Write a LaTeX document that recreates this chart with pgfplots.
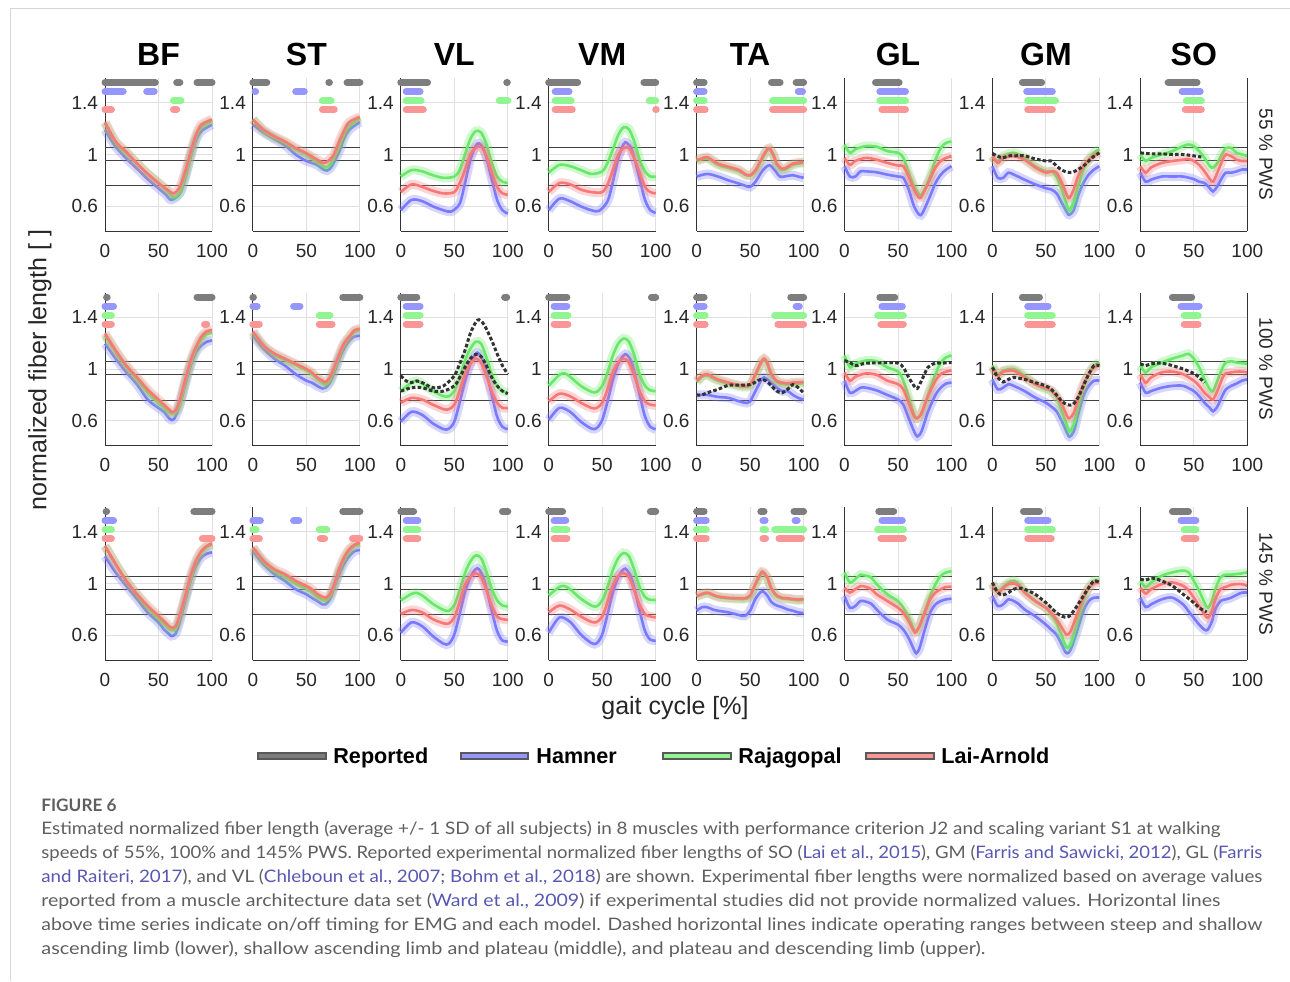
\documentclass[border=0pt]{standalone}
\usepackage{pgfplots}
\pgfplotsset{compat=1.18}
\usepackage{fontspec}
\setmainfont{Liberation Sans}
\newfontfamily\capfont{Lato}
\usepackage{graphicx}
\definecolor{hamc}{RGB}{122,122,255}
\definecolor{rajc}{RGB}{105,232,105}
\definecolor{laic}{RGB}{248,120,120}
\definecolor{hamb}{RGB}{150,150,255}
\definecolor{rajb}{RGB}{145,245,145}
\definecolor{laib}{RGB}{250,150,150}
\definecolor{repb}{RGB}{125,125,125}
\definecolor{capc}{RGB}{95,95,95}
\definecolor{citec}{RGB}{88,88,178}
\newcommand\ct[1]{\textcolor{citec}{#1}}
\pgfplotsset{
  panel/.style={
    scale only axis, width=53.5pt, height=76.5pt, anchor=south west,
    xmin=0, xmax=100, ymin=0.41, ymax=1.59,
    axis lines=left, axis line style={-, draw=black!80, line width=0.5pt},
    xtick={0,50,100}, ytick={0.6,1,1.4},
    grid=major, major grid style={draw=black!12, line width=0.5pt},
    major tick length=0pt, tick style={draw=none},
    ticklabel style={font=\fontsize{9.5}{11}\selectfont, text=black!85},
    xticklabel style={yshift=-3pt},
    /pgf/number format/assume math mode=true,
    clip=false,
  },
  hl/.style={no marks, draw=black!75, line width=0.6pt},
  ham/.style={no marks, smooth, draw=hamc, line width=1.3pt, preaction={draw=hamc, draw opacity=0.3, line width=4.5pt}},
  raj/.style={no marks, smooth, draw=rajc, line width=1.3pt, preaction={draw=rajc, draw opacity=0.3, line width=4.5pt}},
  lai/.style={no marks, smooth, draw=laic, line width=1.3pt, preaction={draw=laic, draw opacity=0.3, line width=4.5pt}},
  rep/.style={no marks, smooth, draw=black!80, line width=1.5pt, dash pattern=on 1.8pt off 1.1pt},
  bar/.style={no marks, draw=#1, line width=3.5pt, line cap=round, unbounded coords=jump},
}
\newcommand\hlines{%
  \addplot[hl] coordinates {(0,1.055)(100,1.055)};
  \addplot[hl] coordinates {(0,0.955)(100,0.955)};
  \addplot[hl] coordinates {(0,0.76)(100,0.76)};}
\newcommand\rline{\draw[black!80, line width=0.5pt] (rel axis cs:1,0) -- (rel axis cs:1,1);}
\begin{document}
\begin{tikzpicture}
\path[use as bounding box, fill=white] (0,0) rectangle (645pt,-490.5pt);
% ================= ROW 1 (55% PWS) =================
\begin{axis}[panel, at={(52.5pt,-115.5pt)}]
\hlines
\addplot[ham] coordinates {(0,1.19)(10,1.06)(20,0.97)(30,0.89)(40,0.81)(50,0.74)(57,0.69)(62,0.65)(70,0.70)(75,0.82)(80,0.98)(85,1.11)(90,1.18)(100,1.23)};
\addplot[raj] coordinates {(0,1.24)(10,1.09)(20,1.01)(30,0.93)(40,0.85)(50,0.78)(58,0.72)(64,0.67)(70,0.71)(75,0.83)(80,0.99)(85,1.13)(90,1.21)(100,1.26)};
\addplot[lai] coordinates {(0,1.25)(10,1.10)(20,1.02)(30,0.93)(40,0.85)(50,0.78)(58,0.73)(64,0.70)(70,0.75)(75,0.87)(80,1.02)(85,1.15)(90,1.23)(100,1.27)};
\addplot[bar=repb] coordinates {(0,1.555)(47,1.555)(0,nan)(67,1.555)(70,1.555)(0,nan)(86,1.555)(100,1.555)};
\addplot[bar=hamb] coordinates {(0,1.485)(17,1.485)(0,nan)(39,1.485)(46,1.485)};
\addplot[bar=rajb] coordinates {(64,1.413)(71,1.413)};
\addplot[bar=laib] coordinates {(0,1.346)(6,1.346)(0,nan)(64,1.346)(67,1.346)};
\end{axis}
\begin{axis}[panel, at={(126.45pt,-115.5pt)}]
\hlines
\addplot[ham] coordinates {(0,1.23)(10,1.17)(20,1.12)(30,1.07)(40,1.00)(50,0.95)(60,0.92)(67,0.88)(72,0.89)(80,1.01)(85,1.12)(90,1.19)(100,1.25)};
\addplot[raj] coordinates {(0,1.27)(10,1.18)(20,1.13)(30,1.09)(40,1.04)(50,1.00)(60,0.94)(68,0.90)(73,0.93)(80,1.05)(85,1.15)(90,1.22)(100,1.28)};
\addplot[lai] coordinates {(0,1.27)(10,1.19)(20,1.14)(30,1.10)(40,1.05)(50,1.01)(60,0.96)(67,0.935)(75,0.99)(80,1.09)(85,1.18)(90,1.25)(100,1.29)};
\addplot[bar=repb] coordinates {(0,1.555)(13,1.555)(0,nan)(71,1.555)(71.5,1.555)(0,nan)(88,1.555)(100,1.555)};
\addplot[bar=hamb] coordinates {(2,1.485)(2.5,1.485)(0,nan)(40,1.485)(48,1.485)};
\addplot[bar=rajb] coordinates {(65,1.413)(73,1.413)};
\addplot[bar=laib] coordinates {(65,1.346)(76,1.346)};
\end{axis}
\begin{axis}[panel, at={(200.4pt,-115.5pt)}]
\hlines
\addplot[ham] coordinates {(0,0.57)(10,0.65)(20,0.64)(30,0.60)(40,0.57)(47,0.56)(55,0.62)(60,0.78)(65,0.96)(70,1.065)(73,1.085)(78,1.03)(85,0.81)(90,0.65)(95,0.57)(100,0.545)};
\addplot[raj] coordinates {(0,0.83)(10,0.88)(20,0.87)(30,0.84)(40,0.82)(50,0.83)(55,0.88)(60,1.0)(65,1.12)(70,1.18)(75,1.17)(80,1.08)(85,0.935)(90,0.83)(95,0.79)(100,0.78)};
\addplot[lai] coordinates {(0,0.71)(10,0.77)(20,0.75)(30,0.72)(40,0.70)(50,0.71)(55,0.78)(60,0.88)(65,1.0)(70,1.05)(75,1.06)(80,0.99)(85,0.86)(90,0.75)(95,0.70)(100,0.69)};
\addplot[bar=repb] coordinates {(0,1.555)(25,1.555)(0,nan)(99,1.555)(99.5,1.555)};
\addplot[bar=hamb] coordinates {(5,1.485)(18,1.485)};
\addplot[bar=rajb] coordinates {(5,1.413)(19,1.413)(0,nan)(92,1.413)(100,1.413)};
\addplot[bar=laib] coordinates {(5,1.346)(21,1.346)};
\end{axis}
\begin{axis}[panel, at={(274.35pt,-115.5pt)}]
\hlines
\addplot[ham] coordinates {(0,0.57)(10,0.66)(20,0.64)(30,0.60)(40,0.57)(47,0.565)(55,0.64)(60,0.79)(65,0.97)(70,1.08)(73,1.09)(78,1.03)(85,0.81)(90,0.65)(95,0.57)(100,0.55)};
\addplot[raj] coordinates {(0,0.86)(10,0.92)(20,0.91)(30,0.88)(40,0.85)(50,0.87)(55,0.935)(60,1.04)(65,1.15)(70,1.21)(75,1.195)(80,1.10)(85,0.96)(90,0.87)(95,0.83)(100,0.83)};
\addplot[lai] coordinates {(0,0.71)(10,0.78)(20,0.77)(30,0.73)(40,0.71)(50,0.71)(55,0.77)(60,0.88)(65,1.0)(70,1.05)(75,1.05)(80,0.97)(85,0.86)(90,0.75)(95,0.71)(100,0.70)};
\addplot[bar=repb] coordinates {(0,1.555)(27,1.555)(0,nan)(89,1.555)(100,1.555)};
\addplot[bar=hamb] coordinates {(6,1.485)(19,1.485)};
\addplot[bar=rajb] coordinates {(6,1.413)(21,1.413)(0,nan)(94,1.413)(100,1.413)};
\addplot[bar=laib] coordinates {(6,1.346)(22,1.346)(0,nan)(100,1.346)(100.5,1.346)};
\end{axis}
\begin{axis}[panel, at={(348.3pt,-115.5pt)}]
\hlines
\addplot[ham] coordinates {(0,0.83)(10,0.85)(20,0.83)(30,0.80)(40,0.775)(45,0.76)(50,0.75)(55,0.79)(62,0.88)(68,0.917)(73,0.88)(78,0.83)(85,0.835)(90,0.84)(95,0.83)(100,0.82)};
\addplot[raj] coordinates {(0,0.95)(10,0.97)(20,0.92)(30,0.895)(40,0.87)(45,0.845)(50,0.835)(55,0.87)(60,0.945)(65,1.02)(68,1.04)(72,0.985)(75,0.92)(80,0.88)(85,0.895)(90,0.92)(100,0.935)};
\addplot[lai] coordinates {(0,0.956)(5,0.97)(10,0.98)(20,0.93)(30,0.905)(40,0.88)(45,0.85)(50,0.84)(55,0.88)(60,0.956)(65,1.03)(68,1.05)(72,0.995)(75,0.93)(80,0.89)(85,0.905)(90,0.93)(100,0.943)};
\addplot[bar=repb] coordinates {(0,1.555)(7,1.555)(0,nan)(70,1.555)(78,1.555)(0,nan)(93,1.555)(100,1.555)};
\addplot[bar=hamb] coordinates {(0,1.485)(7,1.485)(0,nan)(95,1.485)(99,1.485)};
\addplot[bar=rajb] coordinates {(0,1.413)(7,1.413)(0,nan)(71,1.413)(100,1.413)};
\addplot[bar=laib] coordinates {(0,1.346)(8,1.346)(0,nan)(71,1.346)(100,1.346)};
\end{axis}
\begin{axis}[panel, at={(422.25pt,-115.5pt)}]
\hlines
\addplot[ham] coordinates {(0,0.91)(5,0.83)(10,0.83)(15,0.87)(20,0.87)(30,0.863)(40,0.845)(50,0.83)(55,0.82)(60,0.73)(65,0.60)(70,0.535)(73,0.55)(80,0.68)(85,0.78)(90,0.845)(95,0.884)(100,0.91)};
\addplot[raj] coordinates {(0,1.077)(5,1.013)(10,1.04)(20,1.065)(30,1.06)(40,1.026)(50,1.013)(55,0.975)(60,0.86)(65,0.755)(70,0.69)(73,0.70)(80,0.83)(85,0.96)(90,1.05)(95,1.09)(100,1.10)};
\addplot[lai] coordinates {(0,0.974)(5,0.92)(10,0.95)(20,0.974)(30,0.96)(40,0.935)(50,0.915)(55,0.91)(60,0.83)(65,0.73)(70,0.665)(73,0.69)(80,0.81)(85,0.90)(90,0.95)(95,0.974)(100,0.987)};
\addplot[bar=repb] coordinates {(29,1.555)(51,1.555)};
\addplot[bar=hamb] coordinates {(33,1.485)(57,1.485)};
\addplot[bar=rajb] coordinates {(33,1.413)(57,1.413)};
\addplot[bar=laib] coordinates {(35,1.346)(57,1.346)};
\end{axis}
\begin{axis}[panel, at={(496.2pt,-115.5pt)}]
\hlines
\addplot[ham] coordinates {(0,0.91)(5,0.82)(10,0.82)(15,0.86)(20,0.845)(30,0.806)(40,0.77)(50,0.74)(55,0.73)(60,0.70)(65,0.625)(70,0.55)(72,0.535)(76,0.57)(80,0.68)(85,0.78)(90,0.845)(95,0.884)(100,0.91)};
\addplot[raj] coordinates {(0,0.987)(5,0.95)(10,0.987)(20,1.013)(30,0.974)(40,0.91)(50,0.87)(55,0.87)(60,0.83)(65,0.73)(70,0.60)(72,0.57)(76,0.63)(80,0.755)(85,0.885)(90,0.96)(95,1.013)(100,1.04)};
\addplot[lai] coordinates {(0,0.987)(5,0.935)(10,0.974)(20,0.987)(30,0.96)(40,0.90)(50,0.86)(55,0.87)(60,0.86)(65,0.78)(70,0.68)(72,0.665)(76,0.73)(80,0.83)(85,0.91)(90,0.96)(95,0.99)(100,1.013)};
\addplot[rep] coordinates {(0,1.008)(5,0.987)(10,0.974)(15,0.99)(20,0.99)(30,0.99)(40,0.966)(50,0.95)(55,0.95)(60,0.91)(65,0.88)(70,0.863)(75,0.863)(80,0.885)(85,0.91)(90,0.95)(95,0.987)(100,1.013)};
\addplot[bar=repb] coordinates {(28,1.555)(46,1.555)};
\addplot[bar=hamb] coordinates {(32,1.485)(56,1.485)};
\addplot[bar=rajb] coordinates {(33,1.413)(59,1.413)};
\addplot[bar=laib] coordinates {(33,1.346)(56,1.346)};
\end{axis}
\begin{axis}[panel, at={(570.15pt,-115.5pt)}]
\hlines
\addplot[ham] coordinates {(0,0.86)(5,0.79)(10,0.806)(20,0.83)(30,0.83)(40,0.83)(50,0.81)(55,0.79)(60,0.78)(65,0.74)(68,0.715)(72,0.755)(77,0.83)(80,0.86)(85,0.86)(90,0.87)(95,0.884)(100,0.884)};
\addplot[raj] coordinates {(0,1.0)(5,0.95)(10,0.974)(20,1.0)(30,1.026)(40,1.065)(45,1.077)(50,1.065)(55,1.026)(60,0.974)(65,0.91)(68,0.90)(72,0.935)(77,1.013)(80,1.05)(85,1.05)(90,1.013)(95,1.0)(100,0.99)};
\addplot[lai] coordinates {(0,0.91)(5,0.86)(10,0.90)(20,0.935)(30,0.95)(40,0.96)(45,0.966)(50,0.95)(55,0.92)(60,0.87)(65,0.81)(68,0.79)(72,0.86)(77,0.96)(80,1.0)(85,0.987)(90,0.96)(95,0.95)(100,0.95)};
\addplot[rep] coordinates {(0,1.013)(10,1.005)(20,1.005)(30,1.0)(40,1.0)(50,0.99)(57,0.98)};
\addplot[bar=repb] coordinates {(26,1.555)(53,1.555)};
\addplot[bar=hamb] coordinates {(39,1.485)(56,1.485)};
\addplot[bar=rajb] coordinates {(43,1.413)(57,1.413)};
\addplot[bar=laib] coordinates {(42,1.346)(57,1.346)};
\rline
\end{axis}
% ================= ROW 2 (100% PWS) =================
\begin{axis}[panel, at={(52.5pt,-222.75pt)}]
\hlines
\addplot[ham] coordinates {(0,1.196)(10,1.08)(20,0.974)(30,0.88)(40,0.764)(50,0.70)(55,0.67)(60,0.62)(62,0.607)(65,0.62)(70,0.725)(75,0.88)(80,1.026)(85,1.13)(90,1.18)(95,1.21)(100,1.22)};
\addplot[raj] coordinates {(0,1.26)(10,1.13)(20,1.015)(30,0.92)(40,0.82)(50,0.74)(55,0.705)(60,0.665)(63,0.655)(66,0.665)(70,0.725)(75,0.895)(80,1.04)(85,1.15)(90,1.23)(95,1.27)(100,1.28)};
\addplot[lai] coordinates {(0,1.275)(10,1.144)(20,1.026)(30,0.935)(40,0.84)(50,0.764)(55,0.725)(60,0.686)(62,0.67)(66,0.68)(70,0.764)(75,0.92)(80,1.065)(85,1.17)(90,1.25)(95,1.29)(100,1.30)};
\addplot[bar=repb] coordinates {(1.5,1.555)(2,1.555)(0,nan)(86,1.555)(100,1.555)};
\addplot[bar=hamb] coordinates {(0,1.485)(8,1.485)};
\addplot[bar=rajb] coordinates {(0,1.413)(6,1.413)};
\addplot[bar=laib] coordinates {(0,1.346)(6,1.346)(0,nan)(93,1.346)(95,1.346)};
\end{axis}
\begin{axis}[panel, at={(126.45pt,-222.75pt)}]
\hlines
\addplot[ham] coordinates {(0,1.26)(10,1.157)(20,1.08)(30,1.026)(40,0.96)(50,0.91)(55,0.895)(60,0.87)(65,0.85)(68,0.856)(72,0.895)(76,0.974)(80,1.065)(85,1.157)(90,1.22)(95,1.25)(100,1.257)};
\addplot[raj] coordinates {(0,1.28)(10,1.175)(20,1.11)(30,1.07)(40,1.03)(50,0.99)(55,0.96)(60,0.925)(65,0.895)(68,0.88)(72,0.91)(76,0.99)(80,1.08)(85,1.18)(90,1.24)(95,1.29)(100,1.30)};
\addplot[lai] coordinates {(0,1.29)(10,1.18)(20,1.12)(30,1.08)(40,1.04)(50,1.0)(55,0.974)(60,0.935)(65,0.91)(68,0.90)(72,0.935)(76,1.013)(80,1.10)(85,1.196)(90,1.25)(95,1.30)(100,1.31)};
\addplot[bar=repb] coordinates {(0,1.555)(0.5,1.555)(0,nan)(84,1.555)(100,1.555)};
\addplot[bar=hamb] coordinates {(0,1.485)(4,1.485)(0,nan)(38,1.485)(44,1.485)};
\addplot[bar=rajb] coordinates {(62,1.413)(72,1.413)};
\addplot[bar=laib] coordinates {(0,1.346)(6,1.346)(0,nan)(62,1.346)(74,1.346)};
\end{axis}
\begin{axis}[panel, at={(200.4pt,-222.75pt)}]
\hlines
\addplot[ham] coordinates {(0,0.594)(10,0.67)(20,0.646)(30,0.58)(40,0.536)(45,0.54)(50,0.594)(55,0.74)(60,0.908)(65,1.04)(70,1.118)(73,1.118)(78,1.04)(85,0.80)(90,0.633)(95,0.554)(100,0.536)};
\addplot[raj] coordinates {(0,0.83)(10,0.895)(15,0.908)(20,0.887)(30,0.83)(40,0.79)(45,0.79)(50,0.83)(55,0.935)(60,1.065)(65,1.157)(70,1.21)(75,1.196)(80,1.09)(85,0.96)(90,0.87)(95,0.83)(100,0.817)};
\addplot[lai] coordinates {(0,0.74)(10,0.777)(20,0.764)(30,0.725)(40,0.69)(45,0.69)(50,0.725)(55,0.83)(60,0.96)(65,1.04)(70,1.08)(75,1.05)(80,0.948)(85,0.83)(90,0.74)(95,0.70)(100,0.70)};
\addplot[rep] coordinates {(0,0.948)(5,0.908)(10,0.895)(15,0.908)(20,0.895)(30,0.856)(40,0.87)(50,0.948)(55,1.04)(60,1.144)(65,1.275)(70,1.36)(73,1.38)(78,1.34)(85,1.22)(90,1.118)(95,1.026)(100,0.96)};
\addplot[rep] coordinates {(0,0.83)(5,0.843)(10,0.856)(20,0.856)(30,0.83)(40,0.83)(50,0.87)(55,0.935)(60,1.013)(65,1.08)(70,1.113)(75,1.097)(80,1.026)(85,0.935)(90,0.87)(95,0.83)(100,0.81)};
\addplot[bar=repb] coordinates {(0,1.555)(15,1.555)(0,nan)(97,1.555)(99,1.555)};
\addplot[bar=hamb] coordinates {(5,1.485)(18,1.485)};
\addplot[bar=rajb] coordinates {(5,1.413)(18,1.413)};
\addplot[bar=laib] coordinates {(5,1.346)(18,1.346)};
\end{axis}
\begin{axis}[panel, at={(274.35pt,-222.75pt)}]
\hlines
\addplot[ham] coordinates {(0,0.607)(10,0.70)(20,0.67)(30,0.594)(40,0.54)(45,0.545)(50,0.607)(55,0.75)(60,0.92)(65,1.04)(70,1.105)(73,1.11)(78,1.04)(85,0.80)(90,0.633)(95,0.554)(100,0.536)};
\addplot[raj] coordinates {(0,0.87)(10,0.955)(15,0.966)(20,0.94)(30,0.87)(40,0.824)(45,0.824)(50,0.87)(55,0.974)(60,1.105)(65,1.196)(70,1.236)(75,1.21)(80,1.105)(85,0.96)(90,0.87)(95,0.835)(100,0.83)};
\addplot[lai] coordinates {(0,0.75)(10,0.81)(20,0.79)(30,0.74)(40,0.70)(45,0.70)(50,0.74)(55,0.843)(60,0.974)(65,1.05)(70,1.08)(75,1.05)(80,0.948)(85,0.83)(90,0.75)(95,0.725)(100,0.72)};
\addplot[bar=repb] coordinates {(0,1.555)(17,1.555)(0,nan)(96,1.555)(100,1.555)};
\addplot[bar=hamb] coordinates {(5,1.485)(17,1.485)};
\addplot[bar=rajb] coordinates {(5,1.413)(18,1.413)};
\addplot[bar=laib] coordinates {(5,1.346)(18,1.346)};
\end{axis}
\begin{axis}[panel, at={(348.3pt,-222.75pt)}]
\hlines
\addplot[ham] coordinates {(0,0.80)(10,0.80)(20,0.785)(30,0.777)(40,0.75)(47,0.738)(50,0.75)(55,0.83)(60,0.908)(63,0.935)(68,0.908)(75,0.856)(80,0.83)(85,0.83)(90,0.80)(95,0.777)(100,0.764)};
\addplot[raj] coordinates {(0,0.90)(5,0.94)(10,0.95)(15,0.93)(20,0.91)(30,0.885)(40,0.865)(45,0.86)(50,0.87)(55,0.95)(60,1.04)(63,1.07)(66,1.04)(70,0.95)(75,0.90)(80,0.885)(85,0.88)(90,0.885)(100,0.89)};
\addplot[lai] coordinates {(0,0.908)(5,0.948)(10,0.96)(15,0.94)(20,0.92)(30,0.895)(40,0.875)(45,0.87)(50,0.88)(55,0.96)(60,1.05)(63,1.08)(66,1.05)(70,0.96)(75,0.908)(80,0.895)(85,0.89)(90,0.895)(100,0.90)};
\addplot[rep] coordinates {(0,0.80)(5,0.80)(10,0.817)(20,0.843)(30,0.875)(40,0.875)(50,0.88)(55,0.90)(60,0.92)(65,0.908)(70,0.87)(75,0.83)(80,0.817)(85,0.843)(90,0.88)(95,0.856)(100,0.817)};
\addplot[bar=repb] coordinates {(0,1.555)(7,1.555)(0,nan)(88,1.555)(100,1.555)};
\addplot[bar=hamb] coordinates {(0,1.485)(7,1.485)(0,nan)(93,1.485)(96,1.485)};
\addplot[bar=rajb] coordinates {(0,1.413)(8,1.413)(0,nan)(73,1.413)(100,1.413)};
\addplot[bar=laib] coordinates {(0,1.346)(8,1.346)(0,nan)(76,1.346)(100,1.346)};
\end{axis}
\begin{axis}[panel, at={(422.25pt,-222.75pt)}]
\hlines
\addplot[ham] coordinates {(0,0.91)(5,0.817)(10,0.83)(15,0.856)(20,0.856)(30,0.835)(40,0.80)(50,0.765)(55,0.725)(60,0.62)(65,0.52)(68,0.48)(72,0.52)(78,0.67)(85,0.80)(90,0.856)(95,0.888)(100,0.895)};
\addplot[raj] coordinates {(0,1.105)(5,1.013)(10,1.04)(20,1.065)(30,1.06)(40,1.013)(50,0.98)(55,0.91)(60,0.78)(65,0.65)(68,0.62)(72,0.66)(78,0.80)(85,0.96)(90,1.05)(95,1.09)(100,1.105)};
\addplot[lai] coordinates {(0,0.974)(5,0.91)(10,0.94)(20,0.966)(30,0.955)(40,0.91)(50,0.883)(55,0.843)(60,0.74)(65,0.635)(68,0.62)(72,0.66)(78,0.79)(85,0.91)(90,0.96)(95,0.98)(100,0.99)};
\addplot[rep] coordinates {(0,1.065)(5,1.05)(10,1.026)(15,1.035)(20,1.045)(30,1.047)(40,1.05)(50,1.045)(55,1.013)(60,0.935)(65,0.87)(68,0.85)(72,0.91)(78,1.013)(85,1.045)(90,1.045)(100,1.05)};
\addplot[bar=repb] coordinates {(33,1.555)(47,1.555)};
\addplot[bar=hamb] coordinates {(35,1.485)(54,1.485)};
\addplot[bar=rajb] coordinates {(31,1.413)(55,1.413)};
\addplot[bar=laib] coordinates {(34,1.346)(55,1.346)};
\end{axis}
\begin{axis}[panel, at={(496.2pt,-222.75pt)}]
\hlines
\addplot[ham] coordinates {(0,0.92)(5,0.843)(10,0.856)(15,0.883)(20,0.87)(30,0.83)(40,0.78)(50,0.74)(55,0.71)(60,0.674)(65,0.595)(70,0.504)(72,0.478)(76,0.517)(80,0.647)(85,0.79)(90,0.87)(95,0.91)(100,0.91)};
\addplot[raj] coordinates {(0,1.026)(5,0.96)(10,0.987)(20,1.0)(30,0.948)(40,0.883)(50,0.843)(55,0.83)(60,0.78)(65,0.674)(70,0.556)(72,0.517)(76,0.57)(80,0.70)(85,0.856)(90,0.96)(95,1.026)(100,1.05)};
\addplot[lai] coordinates {(0,1.013)(5,0.948)(10,0.98)(20,0.987)(30,0.935)(40,0.883)(50,0.856)(55,0.835)(60,0.79)(65,0.725)(70,0.634)(72,0.62)(76,0.66)(80,0.765)(85,0.883)(90,0.96)(95,1.013)(100,1.026)};
\addplot[rep] coordinates {(0,1.013)(5,0.935)(10,0.90)(15,0.92)(20,0.935)(30,0.92)(40,0.895)(50,0.87)(55,0.843)(60,0.80)(65,0.75)(70,0.725)(75,0.725)(80,0.78)(85,0.87)(90,0.96)(95,1.026)(100,1.026)};
\addplot[bar=repb] coordinates {(28,1.555)(44,1.555)};
\addplot[bar=hamb] coordinates {(33,1.485)(52,1.485)};
\addplot[bar=rajb] coordinates {(33,1.413)(56,1.413)};
\addplot[bar=laib] coordinates {(33,1.346)(56,1.346)};
\end{axis}
\begin{axis}[panel, at={(570.15pt,-222.75pt)}]
\hlines
\addplot[ham] coordinates {(0,0.895)(5,0.817)(10,0.83)(20,0.856)(30,0.87)(40,0.87)(50,0.83)(55,0.79)(60,0.74)(65,0.70)(68,0.674)(72,0.71)(77,0.80)(80,0.843)(85,0.87)(90,0.888)(95,0.91)(100,0.92)};
\addplot[raj] coordinates {(0,1.026)(5,0.974)(10,1.013)(20,1.05)(30,1.08)(40,1.105)(45,1.117)(50,1.08)(55,1.013)(60,0.92)(65,0.843)(68,0.83)(72,0.91)(77,1.013)(80,1.05)(85,1.06)(90,1.05)(95,1.045)(100,1.04)};
\addplot[lai] coordinates {(0,0.96)(5,0.895)(10,0.935)(20,0.974)(30,0.98)(40,0.96)(50,0.91)(55,0.87)(60,0.817)(65,0.78)(68,0.765)(72,0.83)(77,0.935)(80,0.966)(85,0.974)(90,0.98)(95,0.98)(100,0.974)};
\addplot[rep] coordinates {(0,1.04)(5,1.026)(10,1.04)(20,1.045)(30,1.026)(40,1.0)(50,0.966)(55,0.935)(60,0.895)};
\addplot[bar=repb] coordinates {(30,1.555)(48,1.555)};
\addplot[bar=hamb] coordinates {(38,1.485)(55,1.485)};
\addplot[bar=rajb] coordinates {(41,1.413)(54,1.413)};
\addplot[bar=laib] coordinates {(41,1.346)(54,1.346)};
\rline
\end{axis}
% ================= ROW 3 (145% PWS) =================
\begin{axis}[panel, at={(52.5pt,-330pt)}]
\hlines
\addplot[ham] coordinates {(0,1.21)(10,1.085)(20,0.98)(30,0.88)(40,0.775)(50,0.70)(55,0.647)(60,0.61)(62,0.595)(66,0.613)(70,0.71)(75,0.866)(80,1.02)(85,1.137)(90,1.20)(95,1.23)(100,1.24)};
\addplot[raj] coordinates {(0,1.29)(10,1.15)(20,1.02)(30,0.91)(40,0.81)(50,0.73)(55,0.69)(60,0.65)(63,0.64)(66,0.65)(70,0.737)(75,0.885)(80,1.034)(85,1.16)(90,1.24)(95,1.28)(100,1.30)};
\addplot[lai] coordinates {(0,1.29)(10,1.15)(20,1.02)(30,0.917)(40,0.827)(50,0.75)(55,0.71)(60,0.67)(62,0.66)(66,0.67)(70,0.76)(75,0.905)(80,1.06)(85,1.175)(90,1.25)(95,1.29)(100,1.31)};
\addplot[bar=repb] coordinates {(1,1.555)(1.5,1.555)(0,nan)(83,1.555)(100,1.555)};
\addplot[bar=hamb] coordinates {(0,1.485)(8,1.485)};
\addplot[bar=rajb] coordinates {(0,1.413)(6,1.413)};
\addplot[bar=laib] coordinates {(0,1.346)(6,1.346)(0,nan)(91,1.346)(100,1.346)};
\end{axis}
\begin{axis}[panel, at={(126.45pt,-330pt)}]
\hlines
\addplot[ham] coordinates {(0,1.25)(10,1.15)(20,1.072)(30,1.02)(40,0.956)(50,0.917)(55,0.89)(60,0.866)(65,0.84)(68,0.84)(72,0.88)(76,0.97)(80,1.06)(85,1.15)(90,1.21)(95,1.25)(100,1.258)};
\addplot[raj] coordinates {(0,1.27)(10,1.165)(20,1.095)(30,1.05)(40,1.0)(50,0.96)(55,0.935)(60,0.90)(65,0.875)(68,0.87)(72,0.90)(76,0.98)(80,1.08)(85,1.18)(90,1.25)(95,1.29)(100,1.30)};
\addplot[lai] coordinates {(0,1.28)(10,1.175)(20,1.11)(30,1.072)(40,1.02)(50,0.98)(55,0.956)(60,0.92)(65,0.897)(68,0.89)(72,0.917)(76,0.995)(80,1.098)(85,1.20)(90,1.265)(95,1.30)(100,1.317)};
\addplot[bar=repb] coordinates {(84,1.555)(100,1.555)};
\addplot[bar=hamb] coordinates {(0,1.485)(7,1.485)(0,nan)(38,1.485)(43,1.485)};
\addplot[bar=rajb] coordinates {(0,1.413)(3,1.413)(0,nan)(62,1.413)(69,1.413)};
\addplot[bar=laib] coordinates {(0,1.346)(6,1.346)(0,nan)(63,1.346)(67,1.346)(0,nan)(93,1.346)(100,1.346)};
\end{axis}
\begin{axis}[panel, at={(200.4pt,-330pt)}]
\hlines
\addplot[ham] coordinates {(0,0.62)(10,0.70)(20,0.67)(30,0.594)(40,0.536)(45,0.536)(50,0.607)(55,0.764)(60,0.935)(65,1.05)(70,1.11)(73,1.11)(78,1.026)(85,0.79)(90,0.633)(95,0.56)(100,0.554)};
\addplot[raj] coordinates {(0,0.87)(10,0.92)(15,0.927)(20,0.908)(30,0.843)(40,0.796)(45,0.79)(50,0.835)(55,0.948)(60,1.08)(65,1.17)(70,1.217)(75,1.196)(80,1.09)(85,0.96)(90,0.87)(95,0.83)(100,0.824)};
\addplot[lai] coordinates {(0,0.764)(10,0.796)(20,0.777)(30,0.725)(40,0.693)(45,0.693)(50,0.738)(55,0.856)(60,0.987)(65,1.05)(70,1.08)(75,1.05)(80,0.948)(85,0.83)(90,0.746)(95,0.725)(100,0.72)};
\addplot[bar=repb] coordinates {(0,1.555)(12,1.555)(0,nan)(95,1.555)(100,1.555)};
\addplot[bar=hamb] coordinates {(5,1.485)(16,1.485)};
\addplot[bar=rajb] coordinates {(5,1.413)(16,1.413)};
\addplot[bar=laib] coordinates {(5,1.346)(16,1.346)};
\end{axis}
\begin{axis}[panel, at={(274.35pt,-330pt)}]
\hlines
\addplot[ham] coordinates {(0,0.62)(10,0.738)(20,0.704)(30,0.607)(40,0.54)(45,0.54)(50,0.607)(55,0.764)(60,0.935)(65,1.05)(70,1.11)(73,1.105)(78,1.026)(85,0.79)(90,0.633)(95,0.567)(100,0.56)};
\addplot[raj] coordinates {(0,0.908)(10,0.974)(15,0.98)(20,0.955)(30,0.883)(40,0.83)(45,0.824)(50,0.87)(55,0.974)(60,1.105)(65,1.196)(70,1.236)(75,1.21)(80,1.105)(85,0.974)(90,0.895)(95,0.874)(100,0.874)};
\addplot[lai] coordinates {(0,0.777)(10,0.83)(20,0.80)(30,0.746)(40,0.704)(45,0.704)(50,0.746)(55,0.856)(60,0.987)(65,1.06)(70,1.08)(75,1.05)(80,0.948)(85,0.835)(90,0.764)(95,0.746)(100,0.738)};
\addplot[bar=repb] coordinates {(0,1.555)(13,1.555)(0,nan)(95,1.555)(100,1.555)};
\addplot[bar=hamb] coordinates {(5,1.485)(16,1.485)};
\addplot[bar=rajb] coordinates {(5,1.413)(17,1.413)};
\addplot[bar=laib] coordinates {(5,1.346)(17,1.346)};
\end{axis}
\begin{axis}[panel, at={(348.3pt,-330pt)}]
\hlines
\addplot[ham] coordinates {(0,0.79)(5,0.817)(10,0.817)(15,0.80)(20,0.79)(30,0.777)(40,0.756)(45,0.75)(50,0.79)(55,0.883)(60,0.935)(62,0.94)(66,0.908)(70,0.856)(75,0.83)(80,0.817)(85,0.80)(90,0.79)(95,0.777)(100,0.772)};
\addplot[raj] coordinates {(0,0.90)(5,0.915)(10,0.925)(15,0.91)(20,0.895)(30,0.885)(40,0.88)(45,0.88)(50,0.90)(55,0.99)(60,1.07)(62,1.08)(66,1.04)(70,0.955)(75,0.90)(80,0.885)(85,0.88)(90,0.875)(95,0.87)(100,0.875)};
\addplot[lai] coordinates {(0,0.903)(5,0.92)(10,0.93)(15,0.915)(20,0.90)(30,0.89)(40,0.887)(45,0.887)(50,0.908)(55,1.0)(60,1.08)(62,1.09)(66,1.05)(70,0.96)(75,0.908)(80,0.89)(85,0.887)(90,0.88)(95,0.877)(100,0.88)};
\addplot[bar=repb] coordinates {(0,1.555)(7,1.555)(0,nan)(60,1.555)(63,1.555)(0,nan)(91,1.555)(100,1.555)};
\addplot[bar=hamb] coordinates {(0,1.485)(9,1.485)(0,nan)(62,1.485)(64,1.485)(0,nan)(92,1.485)(94,1.485)};
\addplot[bar=rajb] coordinates {(0,1.413)(9,1.413)(0,nan)(62,1.413)(64.5,1.413)(0,nan)(73,1.413)(100,1.413)};
\addplot[bar=laib] coordinates {(0,1.346)(9,1.346)(0,nan)(62,1.346)(64.5,1.346)(0,nan)(77,1.346)(98,1.346)};
\end{axis}
\begin{axis}[panel, at={(422.25pt,-330pt)}]
\hlines
\addplot[ham] coordinates {(0,0.904)(5,0.813)(10,0.826)(15,0.865)(20,0.86)(25,0.844)(30,0.80)(40,0.722)(50,0.683)(55,0.644)(60,0.579)(65,0.488)(67,0.462)(70,0.50)(75,0.644)(80,0.774)(85,0.839)(90,0.865)(95,0.878)(100,0.883)};
\addplot[raj] coordinates {(0,1.086)(5,1.008)(10,1.034)(15,1.068)(20,1.06)(25,1.047)(30,0.995)(40,0.917)(50,0.865)(55,0.813)(60,0.735)(65,0.644)(67,0.63)(70,0.67)(75,0.787)(80,0.904)(85,0.995)(90,1.06)(95,1.086)(100,1.094)};
\addplot[lai] coordinates {(0,0.969)(5,0.93)(10,0.956)(15,0.98)(20,0.974)(25,0.956)(30,0.917)(40,0.865)(50,0.813)(55,0.774)(60,0.709)(65,0.63)(67,0.626)(70,0.67)(75,0.774)(80,0.878)(85,0.93)(90,0.956)(95,0.974)(100,0.974)};
\addplot[bar=repb] coordinates {(32,1.555)(46,1.555)};
\addplot[bar=hamb] coordinates {(35,1.485)(54,1.485)};
\addplot[bar=rajb] coordinates {(31,1.413)(55,1.413)};
\addplot[bar=laib] coordinates {(34,1.346)(55,1.346)};
\end{axis}
\begin{axis}[panel, at={(496.2pt,-330pt)}]
\hlines
\addplot[ham] coordinates {(0,0.904)(5,0.826)(10,0.839)(15,0.878)(20,0.865)(25,0.839)(30,0.80)(40,0.748)(50,0.683)(55,0.644)(60,0.605)(65,0.527)(68,0.475)(70,0.462)(73,0.488)(78,0.605)(85,0.787)(90,0.865)(95,0.891)(100,0.891)};
\addplot[raj] coordinates {(0,1.008)(5,0.943)(10,0.974)(15,1.008)(20,1.02)(25,0.995)(30,0.943)(40,0.865)(50,0.813)(55,0.761)(60,0.696)(65,0.592)(68,0.527)(70,0.506)(73,0.527)(78,0.657)(85,0.865)(90,0.969)(95,1.02)(100,1.02)};
\addplot[lai] coordinates {(0,0.995)(5,0.93)(10,0.964)(15,0.995)(20,1.0)(25,0.982)(30,0.93)(40,0.865)(50,0.813)(55,0.774)(60,0.722)(65,0.657)(68,0.618)(70,0.605)(73,0.631)(78,0.735)(85,0.891)(90,0.964)(95,1.0)(100,1.008)};
\addplot[rep] coordinates {(0,1.008)(5,0.93)(10,0.912)(15,0.93)(20,0.956)(25,0.964)(30,0.956)(40,0.917)(50,0.852)(55,0.813)(60,0.774)(65,0.748)(68,0.74)(72,0.748)(78,0.813)(85,0.904)(90,0.969)(95,1.02)(100,1.008)};
\addplot[bar=repb] coordinates {(29,1.555)(44,1.555)};
\addplot[bar=hamb] coordinates {(33,1.485)(52,1.485)};
\addplot[bar=rajb] coordinates {(33,1.413)(56,1.413)};
\addplot[bar=laib] coordinates {(33,1.346)(55,1.346)};
\end{axis}
\begin{axis}[panel, at={(570.15pt,-330pt)}]
\hlines
\addplot[ham] coordinates {(0,0.891)(5,0.818)(10,0.839)(20,0.878)(30,0.891)(40,0.839)(45,0.787)(50,0.735)(55,0.683)(60,0.644)(63,0.644)(67,0.709)(70,0.80)(75,0.865)(80,0.878)(85,0.891)(90,0.912)(95,0.93)(100,0.93)};
\addplot[raj] coordinates {(0,1.02)(5,0.974)(10,1.008)(20,1.06)(30,1.086)(40,1.10)(45,1.086)(50,1.02)(55,0.943)(60,0.852)(63,0.813)(67,0.865)(70,0.956)(75,1.047)(80,1.068)(85,1.068)(90,1.073)(95,1.078)(100,1.086)};
\addplot[lai] coordinates {(0,0.969)(5,0.922)(10,0.956)(20,0.995)(30,1.008)(40,0.982)(45,0.948)(50,0.891)(55,0.826)(60,0.761)(63,0.735)(67,0.787)(70,0.878)(75,0.956)(80,0.974)(85,0.99)(90,0.995)(95,0.995)(100,0.982)};
\addplot[rep] coordinates {(0,1.034)(5,1.026)(10,1.042)(15,1.035)(20,1.02)(30,0.982)(40,0.917)(50,0.852)(55,0.813)(62,0.78)};
\addplot[bar=repb] coordinates {(30,1.555)(45,1.555)};
\addplot[bar=hamb] coordinates {(38,1.485)(52,1.485)};
\addplot[bar=rajb] coordinates {(41,1.413)(52,1.413)};
\addplot[bar=laib] coordinates {(41,1.346)(52,1.346)};
\rline
\end{axis}
% ================= TEXT, LEGEND, CAPTION =================
\begin{scope}[x=0.5pt, y=-0.5pt]
\draw[black!16, line width=0.5pt] (10,8) -- (1290,8);
\draw[black!16, line width=0.5pt] (10,8) -- (10,981);
\foreach \cx/\t in {158.5/BF,306.4/ST,454.3/VL,602.2/VM,750.1/TA,898/GL,1045.9/GM,1193.8/SO}
  \node[anchor=base, inner sep=0pt, font=\fontsize{16}{18}\selectfont\bfseries] at (\cx,65) {\t};
\foreach \cy/\t in {154.5/55,369/100,583.5/145}
  \node[rotate=-90, inner sep=0pt, font=\fontsize{9.5}{11}\selectfont, text=black!85] at (1266,\cy) {\t\ \% PWS};
\node[rotate=90, inner sep=0pt, font=\fontsize{12.5}{14}\selectfont, text=black!85] at (40,370) {normalized fiber length [ ]};
\node[inner sep=0pt, font=\fontsize{12.5}{14}\selectfont, text=black!85] at (675,708) {gait cycle [\%]};
% legend
\filldraw[fill=repb, draw=black!65, line width=0.6pt] (258,753) rectangle (326,759);
\filldraw[fill=hamb, draw=black!65, line width=0.6pt] (461,753) rectangle (528,759);
\filldraw[fill=rajb, draw=black!65, line width=0.6pt] (663,753) rectangle (731,759);
\filldraw[fill=laib, draw=black!65, line width=0.6pt] (866,753) rectangle (934,759);
\node[anchor=base west, inner sep=0pt, font=\fontsize{10.8}{12}\selectfont\bfseries] at (333,763) {Reported};
\node[anchor=base west, inner sep=0pt, font=\fontsize{10.8}{12}\selectfont\bfseries] at (536,763) {Hamner};
\node[anchor=base west, inner sep=0pt, font=\fontsize{10.8}{12}\selectfont\bfseries] at (738,763) {Rajagopal};
\node[anchor=base west, inner sep=0pt, font=\fontsize{10.8}{12}\selectfont\bfseries] at (941,763) {Lai-Arnold};
% caption
\node[anchor=base west, inner sep=0pt, text=capc, font=\capfont\bfseries\fontsize{8.6}{10}\selectfont] at (41,811) {FIGURE 6};
\begin{scope}[every node/.style={anchor=base west, inner sep=0pt, text=capc, font=\capfont\fontsize{8.6}{10}\selectfont}]
\node at (41,834) {\resizebox{589.5pt}{\height}{Estimated normalized fiber length (average +/- 1 SD of all subjects) in 8 muscles with performance criterion J2 and scaling variant S1 at walking}};
\node at (41,858) {\resizebox{610.5pt}{\height}{speeds of 55\%, 100\% and 145\% PWS. Reported experimental normalized fiber lengths of SO (\ct{Lai et al., 2015}), GM (\ct{Farris and Sawicki, 2012}), GL (\ct{Farris}}};
\node at (41,882) {\resizebox{610.5pt}{\height}{\ct{and Raiteri, 2017}), and VL (\ct{Chleboun et al., 2007}; \ct{Bohm et al., 2018}) are shown. Experimental fiber lengths were normalized based on average values}};
\node at (41,906) {\resizebox{589.5pt}{\height}{reported from a muscle architecture data set (\ct{Ward et al., 2009}) if experimental studies did not provide normalized values. Horizontal lines}};
\node at (41,930) {\resizebox{610.5pt}{\height}{above time series indicate on/off timing for EMG and each model. Dashed horizontal lines indicate operating ranges between steep and shallow}};
\node at (41,954) {\resizebox{472pt}{\height}{ascending limb (lower), shallow ascending limb and plateau (middle), and plateau and descending limb (upper).}};
\end{scope}
\end{scope}
\end{tikzpicture}
\end{document}
